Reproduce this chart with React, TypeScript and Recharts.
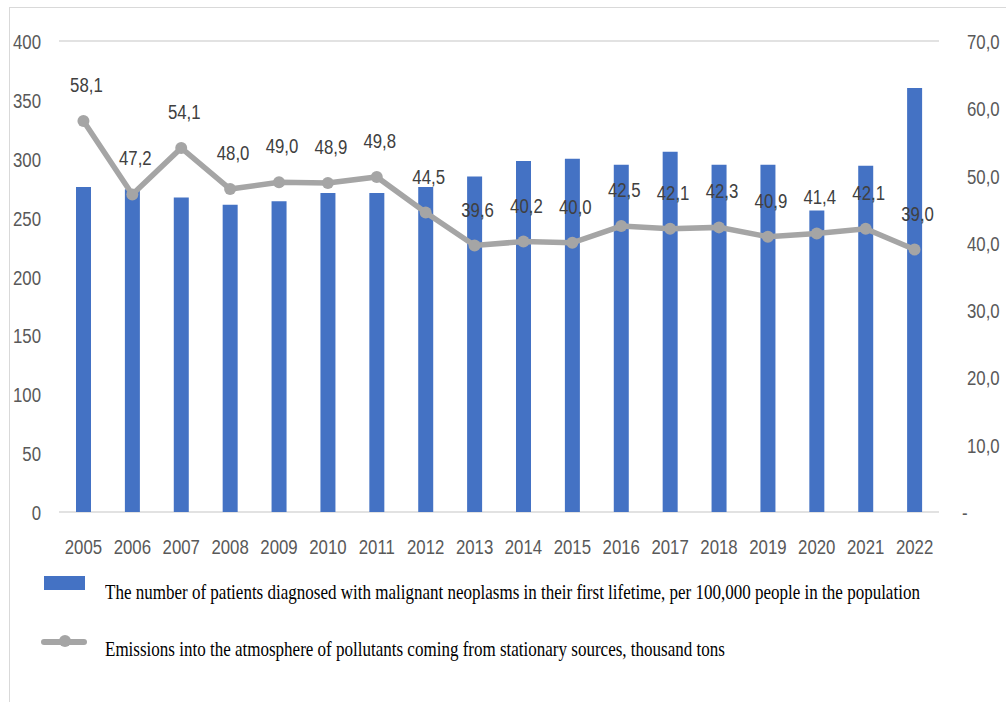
import React from "react";
import {
  ComposedChart,
  Bar,
  Line,
  XAxis,
  YAxis,
  CartesianGrid,
  LabelList,
} from "recharts";

const years = [
  "2005", "2006", "2007", "2008", "2009", "2010", "2011", "2012", "2013",
  "2014", "2015", "2016", "2017", "2018", "2019", "2020", "2021", "2022",
];

// patients per 100,000 (left axis)
const patients = [
  276, 274, 267, 261, 264, 271, 271, 276, 285,
  298, 300, 295, 306, 295, 295, 256, 294, 360,
];

// emissions, thousand tons (right axis)
const emissions = [
  58.1, 47.2, 54.1, 48.0, 49.0, 48.9, 49.8, 44.5, 39.6,
  40.2, 40.0, 42.5, 42.1, 42.3, 40.9, 41.4, 42.1, 39.0,
];

const leftTicks = [0, 50, 100, 150, 200, 250, 300, 350, 400];
const rightTicks = [0, 10, 20, 30, 40, 50, 60, 70];

const barLabel =
  "The number of patients diagnosed with malignant neoplasms in their first lifetime, per 100,000 people in the population";
const lineLabel =
  "Emissions into the atmosphere of pollutants coming from stationary sources, thousand tons";

const data = years.map((y, i) => ({
  year: y,
  patients: patients[i],
  emissions: emissions[i],
}));

const BLUE = "#4472C4";
const GREY = "#A5A5A5";
const FONT = "'Liberation Sans', Arial, sans-serif";
const SQUEEZE = 0.8;

const comma = (v: number) => v.toFixed(1).replace(".", ",");

// condensed-looking text: regular font squeezed horizontally
function Narrow({ x, y, anchor, fill, children }: any) {
  return (
    <text
      transform={`translate(${x},${y}) scale(${SQUEEZE},1)`}
      textAnchor={anchor}
      fill={fill}
      fontSize={21}
      fontFamily={FONT}
    >
      {children}
    </text>
  );
}

function LeftTick(props: any) {
  const { y, payload } = props;
  return (
    <Narrow x={41} y={y + 8} anchor="end" fill="#595959">
      {payload.value}
    </Narrow>
  );
}

function RightTick(props: any) {
  const { y, payload } = props;
  const v = payload.value as number;
  return (
    <Narrow x={v === 0 ? 962 : 967} y={y + 8} anchor="start" fill="#595959">
      {v === 0 ? "-" : comma(v)}
    </Narrow>
  );
}

function BottomTick(props: any) {
  const { x, payload } = props;
  return (
    <Narrow x={x} y={554} anchor="middle" fill="#595959">
      {payload.value}
    </Narrow>
  );
}

function PointLabel(props: any) {
  const { x, y, value } = props;
  return (
    <Narrow x={x + 3} y={y - 29} anchor="middle" fill="#404040">
      {comma(Number(value))}
    </Narrow>
  );
}

const legendText: React.CSSProperties = {
  position: "absolute",
  left: 105,
  whiteSpace: "nowrap",
  fontFamily: "'Liberation Serif', 'Times New Roman', serif",
  fontSize: 21,
  lineHeight: "21px",
  color: "#000",
  transform: "scaleX(0.81)",
  transformOrigin: "0 0",
};

export default function App() {
  return (
    <div style={{ position: "absolute", left: 0, top: 0, width: 1006, height: 702, background: "#fff", overflow: "hidden" }}>
      <div
        style={{
          position: "absolute",
          left: 9,
          top: 7,
          width: 1010,
          height: 710,
          border: "1px solid #d9d9d9",
        }}
      />
      <ComposedChart
        width={1006}
        height={702}
        data={data}
        margin={{ top: 41, right: 0, bottom: 160, left: 0 }}
        barCategoryGap={0}
        style={{ position: "absolute", left: 0, top: 0 }}
      >
        <CartesianGrid vertical={false} stroke="#d9d9d9" strokeWidth={1.5} />
        <XAxis
          dataKey="year"
          height={30}
          axisLine={false}
          tickLine={false}
          tick={<BottomTick />}
          interval={0}
        />
        <YAxis
          yAxisId="left"
          width={59}
          domain={[0, 400]}
          ticks={leftTicks}
          axisLine={false}
          tickLine={false}
          tick={<LeftTick />}
          interval={0}
        />
        <YAxis
          yAxisId="right"
          orientation="right"
          width={67}
          domain={[0, 70]}
          ticks={rightTicks}
          axisLine={false}
          tickLine={false}
          tick={<RightTick />}
          interval={0}
        />
        <Bar yAxisId="left" dataKey="patients" fill={BLUE} barSize={15} isAnimationActive={false} />
        <Line
          yAxisId="right"
          dataKey="emissions"
          stroke={GREY}
          strokeWidth={5.5}
          dot={{ r: 6, fill: GREY, stroke: GREY, strokeWidth: 0 }}
          isAnimationActive={false}
        >
          <LabelList dataKey="emissions" content={<PointLabel />} />
        </Line>
      </ComposedChart>
      <div style={{ position: "absolute", left: 44, top: 576, width: 41, height: 14, background: BLUE }} />
      <div style={{ ...legendText, top: 582 }}>{barLabel}</div>
      <svg style={{ position: "absolute", left: 38, top: 630 }} width={52} height={24}>
        <line x1={6} y1={12} x2={46} y2={12} stroke={GREY} strokeWidth={6} strokeLinecap="round" />
        <circle cx={27} cy={11} r={6} fill={GREY} />
      </svg>
      <div style={{ ...legendText, top: 639 }}>{lineLabel}</div>
    </div>
  );
}
